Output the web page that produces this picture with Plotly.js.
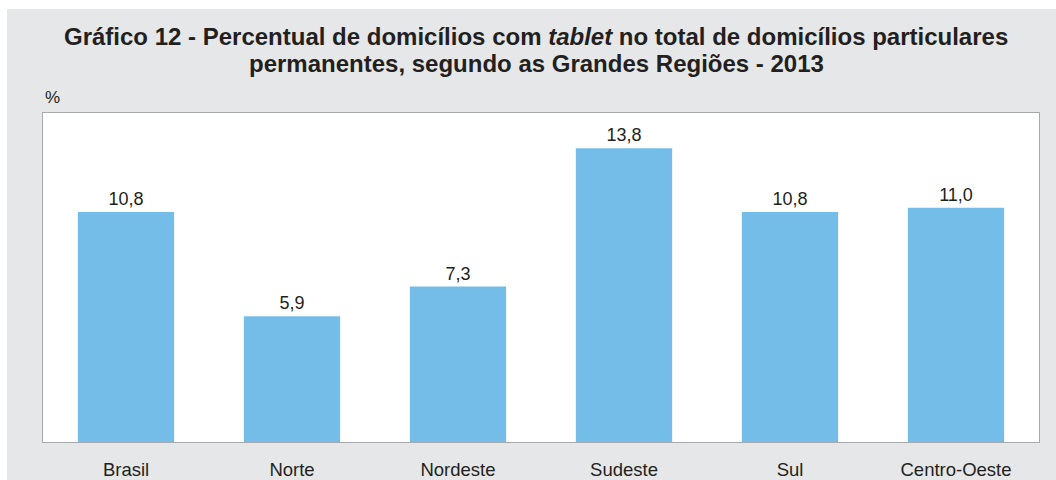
<!DOCTYPE html>
<html><head><meta charset="utf-8">
<script src="https://cdn.plot.ly/plotly-3.0.1.min.js"></script>
<style>
html,body{margin:0;padding:0;background:#fff;}
#chart{position:absolute;left:7px;top:9px;width:1049px;height:471px;}
</style></head><body>
<div id="chart"></div>
<script>
const categories = ["Brasil","Norte","Nordeste","Sudeste","Sul","Centro-Oeste"];
const values = [10.8, 5.9, 7.3, 13.8, 10.8, 11.0];
const titleLine1 = "Gráfico 12 - Percentual de domicílios com <i>tablet</i> no total de domicílios particulares";
const titleLine2 = "permanentes, segundo as Grandes Regiões - 2013";
const unitLabel = "%";

const font = "Liberation Sans, Arial, sans-serif";
const trace = {
  type: "bar",
  x: categories,
  y: values,
  marker: {color: "#74bde8"},
  text: values.map(v => v.toFixed(1).replace(".", ",")),
  textposition: "outside",
  cliponaxis: false,
  textfont: {family: font, size: 18, color: "#231f20"},
  hoverinfo: "skip"
};
const layout = {
  width: 1049, height: 471,
  paper_bgcolor: "#e6e7e8",
  plot_bgcolor: "#ffffff",
  margin: {l: 36, r: 17, t: 104, b: 38},
  bargap: 0.42,
  showlegend: false,
  font: {family: font, color: "#231f20"},
  xaxis: {
    showline: true, linecolor: "#a7a9ac", linewidth: 1, mirror: true,
    ticks: "", tickfont: {family: font, size: 18.5, color: "#231f20"},
    ticklabelstandoff: 11, fixedrange: true, automargin: false
  },
  yaxis: {
    range: [0, 15.45], showticklabels: false, showgrid: false, zeroline: false,
    showline: true, linecolor: "#a7a9ac", linewidth: 1, mirror: true, ticks: ""
  },
  annotations: [
    {text: "<b>" + titleLine1 + "</b>", xref: "paper", yref: "paper", x: 0.495, y: 1, yshift: 77,
     xanchor: "center", yanchor: "middle", showarrow: false,
     font: {family: font, size: 24, color: "#231f20"}},
    {text: "<b>" + titleLine2 + "</b>", xref: "paper", yref: "paper", x: 0.495, y: 1, yshift: 50,
     xanchor: "center", yanchor: "middle", showarrow: false,
     font: {family: font, size: 24, color: "#231f20"}},
    {text: unitLabel, xref: "paper", yref: "paper", x: 0, y: 1, yshift: 16,
     xanchor: "left", yanchor: "middle", showarrow: false,
     font: {family: font, size: 17, color: "#231f20"}}
  ]
};
Plotly.newPlot("chart", [trace], layout, {displayModeBar: false, staticPlot: true});
</script></body></html>
